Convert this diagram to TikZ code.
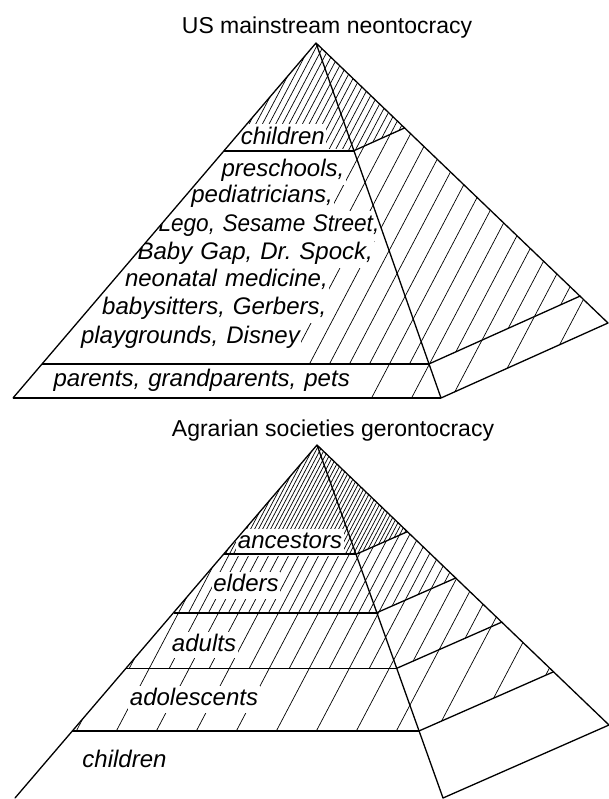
\documentclass[tikz,border=0pt]{standalone}
\usepackage{fontspec}
\setmainfont{Liberation Sans}
\usetikzlibrary{calc}
\frenchspacing
\newcommand\labfont{\fontsize{24}{28}\selectfont\itshape}
\newcommand\titfont{\fontsize{23}{27}\selectfont}
\newcommand\hatchit[2]{%
  \begin{scope}
    \clip #2;
    \pgfmathtruncatemacro\kmin{floor(-440/#1)}%
    \pgfmathtruncatemacro\kmax{ceil(620/#1)}%
    \foreach \k in {\kmin,...,\kmax} \draw[hatchline] ({\k*#1},800) -- ++(421,-800);
  \end{scope}}
\begin{document}
\begin{tikzpicture}[x=1pt,y=-1pt,
  hatchline/.style={line width=0.7pt},
  edge/.style={line width=1.3pt, line join=round, line cap=round},
  boldline/.style={line width=2.2pt},
  midline/.style={line width=1.5pt},
  lab/.style={font=\labfont, fill=white, inner xsep=1.5pt, inner ysep=2pt,
              text height=17.5pt, text depth=5.3pt, anchor=base},
  labwide/.style={font=\labfont, fill=white, inner xsep=1.5pt, inner ysep=3.5pt,
              text height=17.5pt, text depth=5.3pt, text width=300pt,
              align=right, anchor=base east},
  title/.style={font=\titfont, anchor=base, inner sep=0pt}]
\useasboundingbox (0,0) rectangle (609,799);

% ---------- top pyramid ----------
\coordinate (A1) at (316,43);
\coordinate (L1) at (13,398);
\coordinate (B1) at (441,398);
\coordinate (R1) at (608,323);
\foreach \n/\t in {c/0.3034, p/0.904} {
  \coordinate (\n L1) at ($(A1)!\t!(L1)$);
  \coordinate (\n B1) at ($(A1)!\t!(B1)$);
  \coordinate (\n R1) at ($(A1)!\t!(R1)$);
}
% ---------- bottom pyramid ----------
\coordinate (A2) at (317,445);
\coordinate (L2) at (15,798);
\coordinate (B2) at (443,798);
\coordinate (R2) at (609,725);
\foreach \n/\t in {a/0.3096, e/0.475, d/0.6326, o/0.810} {
  \coordinate (\n L2) at ($(A2)!\t!(L2)$);
  \coordinate (\n B2) at ($(A2)!\t!(B2)$);
  \coordinate (\n R2) at ($(A2)!\t!(R2)$);
}

% hatching
\hatchit{6.667}{(A1) -- (cL1) -- (cB1) -- (cR1) -- cycle}
\hatchit{20}{(cL1) -- (pL1) -- (pB1) -- (pR1) -- (cR1) -- (cB1) -- cycle}
\hatchit{40}{(pL1) -- (L1) -- (B1) -- (R1) -- (pR1) -- (pB1) -- cycle}
\hatchit{4}{(A2) -- (aL2) -- (aB2) -- (aR2) -- cycle}
\hatchit{10}{(aL2) -- (eL2) -- (eB2) -- (eR2) -- (aR2) -- (aB2) -- cycle}
\hatchit{20}{(eL2) -- (dL2) -- (dB2) -- (dR2) -- (eR2) -- (eB2) -- cycle}
\hatchit{40}{(dL2) -- (oL2) -- (oB2) -- (oR2) -- (dR2) -- (dB2) -- cycle}

% titles
\node[title] (t1) at (327,34) {US mainstream neontocracy};
\node[title] (t2) at (333,436) {Agrarian societies gerontocracy};

% labels, top
\begin{scope}
  \clip (A1) -- (L1) -- (B1) -- cycle;
  \node[labwide] (n1) at (326.5,145) {children};
  \node[labwide, text height=24pt] (n2) at (346,176.7) {preschools,};
  \node[labwide] (n3) at (334.5,203) {pediatricians,};
  \node[labwide] (n4) at (381,232) {\scalebox{0.94}[1]{Lego, Sesame Street,}};
  \node[labwide] (n5) at (374.5,259) {Baby Gap, Dr. Spock,};
  \node[labwide] (n6) at (329.5,286) {neonatal medicine,};
  \node[labwide] (n7) at (328,314) {babysitters, Gerbers,};
  \node[labwide, text depth=18pt] (n8) at (301.5,343.3) {playgrounds, Disney};
  \node[labwide, inner ysep=6pt] (n9) at (351.5,386.7) {parents, grandparents, pets};
\end{scope}
% labels, bottom
\begin{scope}
  \clip (A2) -- (L2) -- (B2) -- cycle;
  \node[lab] (m1) at (290,548.3) {ancestors};
  \node[lab] (m2) at (246,591.7) {elders};
  \node[lab] (m3) at (204,651) {adults};
  \node[lab] (m4) at (194,705.5) {adolescents};
  \node[lab, fill=none] (m5) at (124.5,767) {children};
\end{scope}

% outlines, top
\draw[edge] (L1) -- (A1) -- (R1) -- (B1) -- (A1);
\draw[boldline] (L1) -- (B1);
\draw[boldline] (cL1) -- (cB1);
\draw[edge] (cB1) -- (cR1);
\draw[boldline] (pL1) -- (pB1);
\draw[edge] (pB1) -- (pR1);

% outlines, bottom
\draw[edge] (L2) -- (A2) -- (R2) -- (B2) -- (A2);
\draw[boldline] (aL2) -- (aB2);
\draw[edge] (aB2) -- (aR2);
\draw[boldline] (eL2) -- (eB2);
\draw[edge] (eB2) -- (eR2);
\draw[midline] (dL2) -- (dB2);
\draw[edge] (dB2) -- (dR2);
\draw[boldline] (oL2) -- (oB2);
\draw[edge] (oB2) -- (oR2);
\end{tikzpicture}
\end{document}
